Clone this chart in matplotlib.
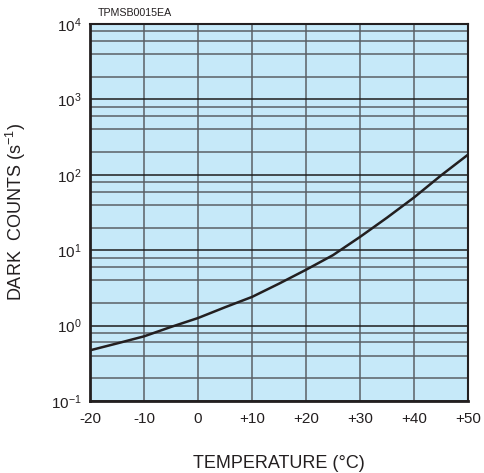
import matplotlib
matplotlib.use("Agg")
import matplotlib.pyplot as plt
from matplotlib.ticker import FixedLocator, NullFormatter

plt.rcParams['font.family'] = ['Liberation Sans', 'DejaVu Sans']
plt.rcParams['mathtext.default'] = 'regular'

# temperature (deg C) vs dark counts (s^-1)
temps = [-20, -15, -10, -5, 0, 5, 10, 15, 20, 25, 30, 35, 40, 45, 50]
counts = [0.47, 0.58, 0.72, 0.96, 1.26, 1.75, 2.4, 3.6, 5.5, 8.6, 15, 27, 50, 98, 185]

x_ticks = [-20, -10, 0, 10, 20, 30, 40, 50]
x_labels = ["-20", "-10", "0", "+10", "+20", "+30", "+40", "+50"]
y_ticks = [1e-1, 1e0, 1e1, 1e2, 1e3, 1e4]
y_labels = ["10$^{-1}$", "10$^{0}$", "10$^{1}$", "10$^{2}$", "10$^{3}$", "10$^{4}$"]

fig = plt.figure(figsize=(4.85, 4.73), dpi=100)
ax = fig.add_axes([90/485, 1-401/473, (468-90)/485, (401-24)/473])
ax.set_facecolor('#c6e9f9')

ax.set_yscale('log')
ax.set_xlim(-20, 50)
ax.set_ylim(0.1, 1e4)

minor = [m * 10.0**e for e in range(-1, 4) for m in (2, 4, 6, 8)]
ax.yaxis.set_minor_locator(FixedLocator(minor))
ax.yaxis.set_minor_formatter(NullFormatter())
ax.set_yticks(y_ticks)
ax.set_yticklabels(y_labels)
ax.set_xticks(x_ticks)
ax.set_xticklabels(x_labels)

ax.grid(True, which='minor', axis='y', color='#5a6066', lw=1.1)
ax.grid(True, which='major', axis='y', color='#1e1e1e', lw=1.1)
ax.grid(True, which='major', axis='x', color='#5a6066', lw=1.1)

ax.tick_params(which='both', length=0, labelsize=11, colors='#231f20')
ax.tick_params(axis='x', pad=8)
ax.tick_params(axis='y', pad=6)

for side in ['left', 'bottom']:
    ax.spines[side].set_linewidth(2.0)
for side in ['right', 'top']:
    ax.spines[side].set_linewidth(1.5)
for s in ax.spines.values():
    s.set_color('#231f20')

ax.plot(temps, counts, color='#231f20', lw=1.8, zorder=5)

fig.text(98/485, 1-13/473, "TPMSB0015EA", fontsize=7.7, va='center', ha='left', color='#231f20')
fig.text(279/485, 1-463/473, "TEMPERATURE (\u00b0C)", fontsize=13, ha='center', va='center', color='#231f20')
fig.text(16/485, 1-212/473, "DARK  COUNTS (s$^{-1}$)", fontsize=13, rotation=90, ha='center', va='center', color='#231f20')

fig.savefig("out.png", dpi=100)
